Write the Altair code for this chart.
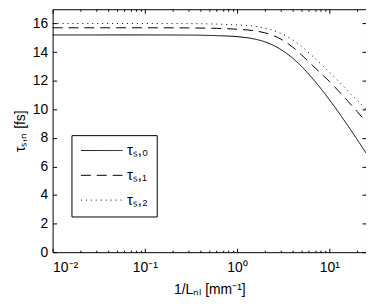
import altair as alt
import pandas as pd

# ---- data ----
x_vals = [0.01, 0.1, 0.3, 0.6, 1, 1.5, 2, 3, 4, 5, 6.5, 8, 10, 12.5, 16, 20, 25]
tau0 = [15.2, 15.2, 15.19, 15.15, 15.08, 14.93, 14.72, 14.17, 13.58, 13.0, 12.19, 11.49, 10.68, 9.82, 8.82, 7.89, 6.94]
tau1 = [15.7, 15.7, 15.69, 15.66, 15.6, 15.5, 15.35, 14.9, 14.35, 13.8, 13.1, 12.55, 11.95, 11.3, 10.55, 9.85, 9.1]
tau2 = [16.0, 16.0, 15.99, 15.96, 15.9, 15.82, 15.68, 15.3, 14.85, 14.4, 13.75, 13.2, 12.6, 11.98, 11.28, 10.65, 10.0]
series_names = ["τₛ,₀", "τₛ,₁", "τₛ,₂"]

x_major = [0.01, 0.1, 1, 10]
x_minor = [0.02, 0.03, 0.04, 0.05, 0.06, 0.07, 0.08, 0.09,
           0.2, 0.3, 0.4, 0.5, 0.6, 0.7, 0.8, 0.9,
           2, 3, 4, 5, 6, 7, 8, 9, 20]
y_ticks = [0, 2, 4, 6, 8, 10, 12, 14, 16]

rows = []
for name, vals in zip(series_names, [tau0, tau1, tau2]):
    for xv, yv in zip(x_vals, vals):
        rows.append({"x": xv, "tau": yv, "series": name})
df = pd.DataFrame(rows)

FONT = "Liberation Sans"
xscale = alt.Scale(type="log", domain=[0.01, 25], nice=False)
yscale = alt.Scale(domain=[0, 17], nice=False)

label_expr = ("datum.value < 0.05 ? '10⁻²' : datum.value < 0.5 ? '10⁻¹' : "
              "datum.value < 5 ? '10⁰' : '10¹'")

lines = alt.Chart(df).mark_line(color="black", strokeWidth=1, interpolate="monotone").encode(
    x=alt.X("x:Q", scale=xscale,
            axis=alt.Axis(orient="bottom", values=x_major, labelExpr=label_expr,
                          tickSize=4, offset=-4, domain=False, grid=False,
                          labelPadding=8, title="1/Lₙₗ [mm⁻¹]", titlePadding=9)),
    y=alt.Y("tau:Q", scale=yscale,
            axis=alt.Axis(orient="left", values=y_ticks, tickSize=4, offset=-4,
                          domain=False, grid=False, labelPadding=5,
                          title="τₛ,ₙ [fs]", titlePadding=5)),
    strokeDash=alt.StrokeDash(
        "series:N",
        scale=alt.Scale(domain=series_names, range=[[1, 0], [10, 6], [1, 4]]),
        legend=alt.Legend(orient="none", legendX=19, legendY=127, title=None,
                          strokeColor="black", padding=8,
                          symbolType="M-4,0H4", symbolSize=110,
                          symbolStrokeWidth=1, symbolStrokeColor="black",
                          symbolOffset=15, labelOffset=18,
                          labelFontSize=15, labelFont=FONT, labelColor="black",
                          rowPadding=9)),
)


def axis_layer(xaxis, yaxis):
    return alt.Chart(df).mark_line(opacity=0).encode(
        x=alt.X("x:Q", scale=xscale, axis=xaxis),
        y=alt.Y("tau:Q", scale=yscale, axis=yaxis),
    )


l2 = axis_layer(
    alt.Axis(orient="bottom", values=x_minor, tickSize=2, offset=-2, labels=False,
             domain=False, grid=False, title=""),
    alt.Axis(orient="right", values=y_ticks, tickSize=4, offset=-4, labels=False,
             domain=False, grid=False, title=""),
)
l3 = axis_layer(
    alt.Axis(orient="top", values=x_major, tickSize=4, offset=-4, labels=False,
             domain=False, grid=False, title=""),
    None,
)
l4 = axis_layer(
    alt.Axis(orient="top", values=x_minor, tickSize=2, offset=-2, labels=False,
             domain=False, grid=False, title=""),
    None,
)

chart = alt.layer(lines, l2, l3, l4).resolve_axis(
    x="independent", y="independent"
).properties(
    width=316, height=245,
    autosize=alt.AutoSizeParams(type="none"),
    padding={"left": 45, "top": 0, "right": 0, "bottom": 47},
).configure_view(
    stroke="black", strokeWidth=1
).configure_axis(
    labelFont=FONT, titleFont=FONT, labelFontSize=14, titleFontSize=14,
    titleFontWeight="normal", labelColor="black", titleColor="black",
    tickColor="black",
)

chart.save("out.html", embed_options={"renderer": "svg", "actions": False})
